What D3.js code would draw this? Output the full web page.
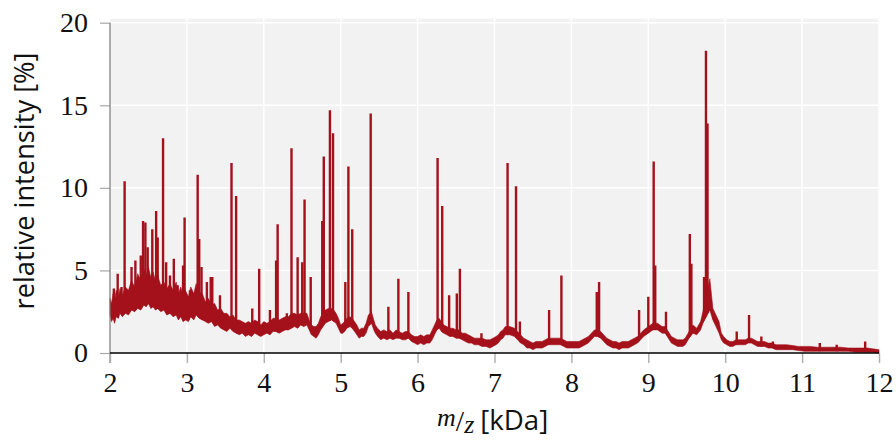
<!DOCTYPE html>
<html>
<head>
<meta charset="utf-8">
<script src="https://cdn.jsdelivr.net/npm/d3@7"></script>
<style>
  body { margin: 0; background: #fff; }
  svg { display: block; }
</style>
</head>
<body>
<div id="chart"></div>
<script>
// noise band of the spectrum (kDa, % low, % high)
var bandMz   = [2.00, 2.02, 2.04, 2.06, 2.08, 2.11, 2.13, 2.16, 2.20, 2.24, 2.28, 2.32, 2.36, 2.40, 2.44, 2.47, 2.50, 2.53, 2.56, 2.59, 2.62, 2.66, 2.70, 2.74, 2.78, 2.82, 2.86, 2.89, 2.92, 2.95, 2.98, 3.02, 3.05, 3.09, 3.12, 3.16, 3.20, 3.24, 3.28, 3.32, 3.36, 3.40, 3.44, 3.48, 3.52, 3.56, 3.60, 3.64, 3.68, 3.72, 3.76, 3.80, 3.84, 3.88, 3.92, 3.96, 4.00, 4.04, 4.08, 4.12, 4.16, 4.20, 4.24, 4.28, 4.32, 4.36, 4.40, 4.44, 4.48, 4.52, 4.56, 4.59, 4.62, 4.65, 4.68, 4.71, 4.74, 4.77, 4.80, 4.84, 4.88, 4.91, 4.94, 4.97, 5.00, 5.03, 5.05, 5.08, 5.12, 5.15, 5.18, 5.21, 5.24, 5.27, 5.30, 5.33, 5.36, 5.40, 5.43, 5.45, 5.48, 5.52, 5.56, 5.60, 5.64, 5.68, 5.72, 5.76, 5.80, 5.84, 5.88, 5.92, 5.96, 6.00, 6.04, 6.08, 6.12, 6.16, 6.19, 6.22, 6.25, 6.28, 6.31, 6.34, 6.38, 6.42, 6.46, 6.50, 6.54, 6.58, 6.62, 6.66, 6.70, 6.74, 6.79, 6.84, 6.89, 6.94, 6.98, 7.02, 7.05, 7.08, 7.11, 7.14, 7.20, 7.26, 7.30, 7.34, 7.38, 7.42, 7.46, 7.50, 7.54, 7.58, 7.62, 7.66, 7.70, 7.74, 7.78, 7.82, 7.86, 7.90, 7.94, 7.98, 8.02, 8.06, 8.10, 8.14, 8.18, 8.22, 8.26, 8.30, 8.34, 8.38, 8.42, 8.46, 8.50, 8.54, 8.58, 8.62, 8.66, 8.70, 8.74, 8.78, 8.82, 8.86, 8.90, 8.94, 9.00, 9.06, 9.12, 9.18, 9.22, 9.26, 9.30, 9.34, 9.38, 9.42, 9.45, 9.48, 9.53, 9.58, 9.63, 9.68, 9.71, 9.80, 9.84, 9.88, 9.92, 9.95, 9.98, 10.02, 10.06, 10.10, 10.14, 10.18, 10.22, 10.26, 10.30, 10.34, 10.38, 10.42, 10.46, 10.51, 10.56, 10.61, 10.66, 10.73, 10.80, 10.88, 10.95, 11.03, 11.10, 11.20, 11.30, 11.40, 11.50, 11.60, 11.70, 11.78, 11.85, 11.92, 12.00];
var bandLow  = [2.3, 1.9, 2.1, 1.8, 2.2, 2.1, 2.4, 2.2, 2.4, 2.3, 2.6, 2.5, 2.7, 2.6, 2.9, 2.8, 3.0, 2.7, 2.8, 2.6, 2.7, 2.5, 2.6, 2.3, 2.4, 2.2, 2.3, 2.0, 2.2, 1.9, 2.0, 1.9, 2.2, 2.0, 2.3, 2.1, 2.0, 1.9, 1.8, 1.9, 1.6, 1.7, 1.5, 1.4, 1.3, 1.5, 1.3, 1.2, 1.1, 1.2, 1.0, 1.1, 1.0, 1.2, 1.1, 1.0, 1.1, 1.2, 1.1, 1.3, 1.3, 1.2, 1.3, 1.4, 1.4, 1.5, 1.6, 1.5, 1.7, 1.6, 1.7, 1.4, 1.1, 1.0, 0.9, 1.1, 1.4, 1.6, 1.8, 1.9, 2.0, 1.9, 1.8, 1.5, 1.2, 1.2, 1.3, 1.5, 1.6, 1.5, 1.3, 1.1, 0.9, 1.0, 1.0, 1.2, 1.6, 1.8, 1.4, 1.2, 1.0, 0.8, 0.9, 0.8, 0.9, 0.8, 0.9, 0.9, 0.8, 0.8, 0.9, 0.7, 0.6, 0.5, 0.6, 0.5, 0.6, 0.6, 0.8, 1.1, 1.4, 1.5, 1.3, 1.2, 1.1, 1.0, 1.0, 0.9, 0.9, 0.8, 0.7, 0.6, 0.6, 0.5, 0.5, 0.4, 0.4, 0.3, 0.4, 0.5, 0.6, 0.8, 0.9, 1.1, 1.1, 1.0, 0.8, 0.6, 0.5, 0.3, 0.3, 0.2, 0.3, 0.3, 0.3, 0.4, 0.5, 0.5, 0.5, 0.5, 0.5, 0.4, 0.3, 0.3, 0.3, 0.3, 0.3, 0.4, 0.5, 0.6, 0.8, 1.0, 1.0, 0.9, 0.7, 0.5, 0.4, 0.3, 0.3, 0.2, 0.3, 0.3, 0.3, 0.4, 0.5, 0.6, 0.8, 1.0, 1.2, 1.4, 1.4, 1.2, 1.2, 0.9, 0.6, 0.5, 0.4, 0.4, 0.4, 0.5, 0.9, 1.2, 1.1, 1.4, 1.8, 2.6, 2.0, 1.6, 1.2, 0.8, 0.6, 0.5, 0.4, 0.4, 0.5, 0.5, 0.5, 0.5, 0.6, 0.6, 0.5, 0.4, 0.4, 0.4, 0.3, 0.3, 0.2, 0.2, 0.2, 0.2, 0.15, 0.1, 0.1, 0.1, 0.1, 0.1, 0.1, 0.1, 0.05, 0.05, 0.05, 0.05, 0.0, 0.0];
var bandHigh = [3.3, 3.0, 3.6, 3.2, 3.8, 3.4, 3.9, 3.5, 4.0, 3.8, 4.4, 4.0, 4.8, 4.4, 5.1, 4.7, 5.2, 4.6, 4.9, 4.4, 4.7, 4.1, 4.3, 3.9, 4.2, 3.8, 4.3, 3.6, 4.0, 3.5, 3.8, 3.4, 4.0, 3.6, 4.2, 3.7, 3.6, 3.1, 3.3, 2.9, 3.0, 2.6, 2.7, 2.4, 2.4, 2.2, 2.3, 2.0, 2.0, 1.9, 1.8, 1.9, 1.8, 2.0, 1.9, 1.7, 1.9, 1.8, 1.9, 2.1, 2.1, 2.0, 2.1, 2.2, 2.2, 2.4, 2.4, 2.3, 2.4, 2.4, 2.4, 2.0, 1.7, 1.6, 1.6, 1.8, 2.2, 2.4, 2.6, 2.7, 2.7, 2.6, 2.4, 2.1, 1.7, 1.8, 1.9, 2.1, 2.2, 2.1, 1.9, 1.7, 1.4, 1.5, 1.5, 1.8, 2.3, 2.5, 2.0, 1.7, 1.5, 1.3, 1.4, 1.3, 1.4, 1.2, 1.4, 1.3, 1.2, 1.3, 1.3, 1.1, 1.0, 1.0, 1.1, 1.0, 1.1, 1.1, 1.4, 1.7, 2.0, 2.1, 1.9, 1.7, 1.6, 1.5, 1.5, 1.4, 1.4, 1.2, 1.2, 1.1, 1.0, 0.9, 0.9, 0.9, 0.8, 0.8, 0.9, 1.0, 1.1, 1.3, 1.4, 1.6, 1.6, 1.5, 1.3, 1.1, 0.9, 0.8, 0.7, 0.6, 0.7, 0.7, 0.7, 0.8, 0.9, 0.9, 0.9, 0.9, 0.9, 0.8, 0.7, 0.7, 0.7, 0.7, 0.7, 0.8, 0.9, 1.0, 1.2, 1.4, 1.4, 1.3, 1.1, 0.9, 0.8, 0.7, 0.7, 0.6, 0.7, 0.7, 0.7, 0.8, 0.9, 1.0, 1.2, 1.4, 1.6, 1.8, 1.8, 1.6, 1.6, 1.3, 1.0, 0.9, 0.8, 0.8, 0.8, 0.9, 1.3, 1.7, 1.5, 1.9, 2.5, 4.5, 2.7, 2.3, 1.9, 1.2, 1.0, 0.8, 0.7, 0.7, 0.8, 0.8, 0.8, 0.8, 0.9, 0.9, 0.8, 0.7, 0.7, 0.7, 0.6, 0.6, 0.5, 0.5, 0.5, 0.45, 0.4, 0.4, 0.4, 0.35, 0.35, 0.35, 0.35, 0.3, 0.3, 0.3, 0.3, 0.25, 0.2];

// peaks standing out of the band (kDa, % height)
var peakMz  = [2.05, 2.10, 2.15, 2.19, 2.28, 2.33, 2.40, 2.43, 2.46, 2.49, 2.55, 2.60, 2.62, 2.69, 2.73, 2.78, 2.83, 2.88, 2.95, 2.97, 3.04, 3.14, 3.16, 3.19, 3.26, 3.31, 3.33, 3.43, 3.58, 3.64, 3.85, 3.94, 4.08, 4.16, 4.18, 4.30, 4.36, 4.44, 4.50, 4.53, 4.61, 4.76, 4.78, 4.86, 4.90, 5.06, 5.10, 5.15, 5.39, 5.62, 5.75, 5.88, 6.26, 6.32, 6.41, 6.51, 6.55, 6.83, 7.17, 7.28, 7.33, 7.71, 7.87, 8.33, 8.36, 8.88, 9.00, 9.07, 9.09, 9.23, 9.54, 9.56, 9.725, 9.75, 9.77, 9.79, 9.84, 10.15, 10.31, 10.47, 10.62, 11.23, 11.45, 11.82];
var peakTop = [3.9, 4.8, 4.0, 10.4, 5.2, 5.6, 5.9, 8.0, 7.9, 6.4, 7.5, 8.6, 7.0, 13.0, 5.5, 4.7, 5.7, 4.1, 5.3, 8.2, 3.8, 10.8, 6.9, 5.2, 4.3, 4.6, 4.6, 3.5, 11.5, 9.5, 2.7, 5.1, 2.6, 5.6, 7.8, 2.4, 12.4, 5.8, 5.5, 9.3, 4.6, 8.0, 11.9, 14.7, 13.3, 4.3, 11.3, 7.5, 14.5, 2.8, 4.5, 3.7, 11.8, 8.9, 3.5, 3.6, 5.1, 1.2, 11.5, 10.1, 1.9, 2.6, 4.7, 3.7, 4.3, 2.6, 3.4, 11.6, 5.3, 2.5, 7.2, 5.4, 4.6, 18.3, 13.9, 3.4, 2.3, 1.3, 2.3, 1.0, 0.7, 0.6, 0.5, 0.7];

var xTicks = [2, 3, 4, 5, 6, 7, 8, 9, 10, 11, 12];
var yTicks = [0, 5, 10, 15, 20];

var red = "#a4111b";
var width = 896, height = 441;
var margin = {top: 22.7, right: 17, bottom: 88, left: 110};

var svg = d3.select("#chart").append("svg")
    .attr("width", width)
    .attr("height", height);

var x = d3.scaleLinear().domain([2, 12]).range([margin.left, width - margin.right]);
var y = d3.scaleLinear().domain([0, 20]).range([height - margin.bottom, margin.top]);

// plot background
svg.append("rect")
    .attr("x", x(2))
    .attr("y", y(20) - 4)
    .attr("width", x(12) - x(2))
    .attr("height", y(0) - y(20) + 4)
    .attr("fill", "#f2f2f2");

// grid
svg.append("g").selectAll("line")
    .data(xTicks.slice(1))
    .enter().append("line")
    .attr("x1", function (d) { return x(d); })
    .attr("x2", function (d) { return x(d); })
    .attr("y1", y(0))
    .attr("y2", y(20) - 4)
    .attr("stroke", "#fff")
    .attr("stroke-width", 1.5);

svg.append("g").selectAll("line")
    .data(yTicks.slice(1))
    .enter().append("line")
    .attr("x1", x(2))
    .attr("x2", x(12))
    .attr("y1", function (d) { return y(d); })
    .attr("y2", function (d) { return y(d); })
    .attr("stroke", "#fff")
    .attr("stroke-width", 1.5);

var band = bandMz.map(function (m, i) { return [m, bandLow[i], bandHigh[i]]; });

// peaks are only visible above the lower edge of the noise band
svg.append("clipPath").attr("id", "aboveBand")
    .append("path")
    .attr("d", d3.area()
        .x(function (d) { return x(d[0]); })
        .y0(function (d) { return y(d[1]); })
        .y1(y(20) - 4)(band));

var spike = d3.line()
    .x(function (d) { return x(d[0]); })
    .y(function (d) { return y(d[1]); });

svg.append("g")
    .attr("clip-path", "url(#aboveBand)")
    .selectAll("path")
    .data(peakMz.map(function (m, i) { return [m, peakTop[i]]; }))
    .enter().append("path")
    .attr("d", function (d) { return spike([[d[0], 0], [d[0], d[1]]]); })
    .attr("fill", "none")
    .attr("stroke", red)
    .attr("stroke-width", 2.4);

svg.append("path")
    .attr("d", d3.area()
        .x(function (d) { return x(d[0]); })
        .y0(function (d) { return y(d[1]); })
        .y1(function (d) { return y(d[2]); })(band))
    .attr("fill", red)
    .attr("stroke", red)
    .attr("stroke-width", 0.6);

// axes
var yAxis = svg.append("g")
    .attr("transform", "translate(" + x(2) + ",0)")
    .call(d3.axisLeft(y).tickValues(yTicks).tickSize(10).tickPadding(12));
yAxis.select(".domain").remove();
yAxis.selectAll(".tick line").attr("stroke", "#a8a8a8").attr("stroke-width", 1.2);
yAxis.append("line")
    .attr("x1", 0).attr("x2", 0)
    .attr("y1", y(20)).attr("y2", y(0) + 10)
    .attr("stroke", "#7a7a7a").attr("stroke-width", 1.2);

var xAxis = svg.append("g")
    .attr("transform", "translate(0," + y(0) + ")")
    .call(d3.axisBottom(x).tickValues(xTicks).tickSize(10).tickPadding(9));
xAxis.select(".domain").remove();
xAxis.selectAll(".tick line").attr("stroke", "#b0b0b0").attr("stroke-width", 1.5);
xAxis.append("line")
    .attr("x1", x(2)).attr("x2", x(12))
    .attr("y1", 0).attr("y2", 0)
    .attr("stroke", "#000").attr("stroke-width", 1.5);

svg.selectAll(".tick text")
    .attr("font-family", "'Liberation Serif', serif")
    .attr("font-size", 28)
    .attr("fill", "#111");

// axis titles
svg.append("text")
    .attr("transform", "translate(34," + 181 + ") rotate(-90)")
    .attr("text-anchor", "middle")
    .attr("font-family", "'Open Sans', sans-serif")
    .attr("font-size", 27)
    .attr("textLength", 257)
    .attr("lengthAdjust", "spacingAndGlyphs")
    .attr("fill", "#111")
    .text("relative intensity [%]");

var xt = svg.append("text")
    .attr("x", 437)
    .attr("y", 432)
    .attr("fill", "#111");
xt.append("tspan")
    .attr("font-family", "'Liberation Serif', serif")
    .attr("font-style", "italic")
    .attr("font-size", 26)
    .attr("dy", -6)
    .text("m");
xt.append("tspan")
    .attr("font-family", "'Liberation Serif', serif")
    .attr("font-size", 30)
    .attr("dy", 5)
    .text("/");
xt.append("tspan")
    .attr("font-family", "'Liberation Serif', serif")
    .attr("font-style", "italic")
    .attr("font-size", 26)
    .attr("dy", 2)
    .text("z");
xt.append("tspan")
    .attr("font-family", "'Open Sans', sans-serif")
    .attr("font-size", 27)
    .attr("dy", -3)
    .attr("dx", 6)
    .attr("textLength", 68)
    .attr("lengthAdjust", "spacingAndGlyphs")
    .text("[kDa]");
</script>
</body>
</html>
